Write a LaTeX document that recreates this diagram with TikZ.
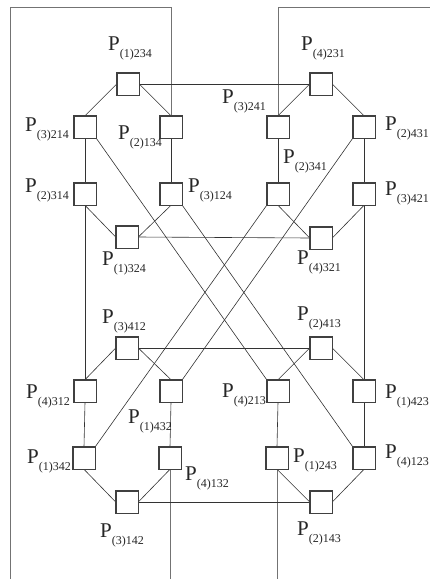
\documentclass[tikz,border=0pt]{standalone}
\usepackage{fontspec}
\setmainfont{Liberation Serif}
\newcommand{\plab}[1]{{\fontsize{21}{21}\selectfont P}\raisebox{-7pt}{\fontsize{12}{12}\selectfont #1}}
\tikzset{
  box/.style={draw=black!75, line width=0.6pt, minimum size=22pt, inner sep=0pt, fill=white},
  edge/.style={draw=black!80, line width=0.6pt},
  frameline/.style={draw=black!55, line width=0.6pt},
  lab/.style={anchor=base west, inner sep=0pt, text=black!85}
}
\begin{document}
\begin{tikzpicture}[x=1pt,y=-1pt]
\useasboundingbox (0,0) rectangle (430,579);
% ---- boxes
\node[box] (a1234) at (128,84) {};
\node[box] (a3214) at (85,127) {};
\node[box] (a2134) at (171,127) {};
\node[box] (a2314) at (85,194) {};
\node[box] (a3124) at (171,194) {};
\node[box] (a1324) at (127,237) {};
\node[box] (b4231) at (321,84) {};
\node[box] (b3241) at (278,127) {};
\node[box] (b2431) at (364,127) {};
\node[box] (b2341) at (278,194) {};
\node[box] (b3421) at (364,194) {};
\node[box] (b4321) at (321,238) {};
\node[box] (c3412) at (127,348) {};
\node[box] (c4312) at (85,391) {};
\node[box] (c1432) at (171,391) {};
\node[box] (c1342) at (84,458) {};
\node[box] (c4132) at (170,458) {};
\node[box] (c3142) at (127,502) {};
\node[box] (d2413) at (321,348) {};
\node[box] (d4213) at (278,391) {};
\node[box] (d1423) at (364,391) {};
\node[box] (d1243) at (277,458) {};
\node[box] (d4123) at (364,458) {};
\node[box] (d2143) at (321,502) {};
% ---- frame coordinates
\coordinate (tl) at (10,7);
\coordinate (bl) at (10,579);
\coordinate (tm1) at (171,7);
\coordinate (bm1) at (170,579);
\coordinate (tm2) at (278,7);
\coordinate (tr) at (430,7);
\coordinate (bm2) at (277,579);
\begin{scope}[on background layer/.style={}]
\end{scope}
% ---- edges (drawn first-ish; boxes have white fill, so redraw boxes after)
\path[frameline] (a2134.north) -- (tm1) -- (tl) -- (bl);
\path[frameline] (c4132.south) -- (bm1);
\path[frameline] (b3241.north) -- (tm2) -- (tr);
\path[frameline] (d1243.south) -- (bm2);
% hexagon top-left
\path[edge] (a1234.west) -- (a3214.north);
\path[edge] (a1234.east) -- (a2134.north);
\path[edge] (a3214.south) -- (a2314.north);
\path[edge] (a2134.south) -- (a3124.north);
\path[edge] (a2314.south) -- (a1324.west);
\path[edge] (a3124.south) -- (a1324.east);
% hexagon top-right
\path[edge] (b4231.west) -- (b3241.north);
\path[edge] (b4231.east) -- (b2431.north);
\path[edge] (b3241.south) -- (b2341.north);
\path[edge] (b2431.south) -- (b3421.north);
\path[edge] (b2341.south) -- (b4321.west);
\path[edge] (b3421.south) -- (b4321.east);
% hexagon bottom-left
\path[edge] (c3412.west) -- (c4312.north);
\path[edge] (c3412.east) -- (c1432.north);
\path[edge] (c4312.south) -- (c1342.north);
\path[edge] (c1432.south) -- (c4132.north);
\path[edge] (c1342.south) -- (c3142.west);
\path[edge] (c4132.south) -- (c3142.east);
% hexagon bottom-right
\path[edge] (d2413.west) -- (d4213.north);
\path[edge] (d2413.east) -- (d1423.north);
\path[edge] (d4213.south) -- (d1243.north);
\path[edge] (d1423.south) -- (d4123.north);
\path[edge] (d1243.south) -- (d2143.west);
\path[edge] (d4123.south) -- (d2143.east);
% external edges
\path[edge] (a1234.east) -- (b4231.west);
\path[edge] (a1324.east) -- (b4321.west);
\path[edge] (c3412.east) -- (d2413.west);
\path[edge] (c3142.east) -- (d2143.west);
\path[edge] (a2314.south) -- (c4312.north);
\path[edge] (b3421.south) -- (d1423.north);
\path[edge] (a3214.south east) -- (d4213.north west);
\path[edge] (a3124.south east) -- (d4123.north west);
\path[edge] (b2431.south west) -- (c1432.north east);
\path[edge] (b2341.south west) -- (c1342.north east);
% redraw boxes on top
\foreach \n in {a1234,a3214,a2134,a2314,a3124,a1324,b4231,b3241,b2431,b2341,b3421,b4321,c3412,c4312,c1432,c1342,c4132,c3142,d2413,d4213,d1423,d1243,d4123,d2143}
  \draw[draw=black!75, line width=0.6pt] (\n.north west) rectangle (\n.south east);
% ---- labels
\node[lab] (l1234) at (108,50) {\plab{(1)234}};
\node[lab] (l3214) at (25,131) {\plab{(3)214}};
\node[lab] (l2134) at (118,139) {\plab{(2)134}};
\node[lab] (l2314) at (25,192) {\plab{(2)314}};
\node[lab] (l3124) at (188,192) {\plab{(3)124}};
\node[lab] (l1324) at (102,265) {\plab{(1)324}};
\node[lab] (l4231) at (301,50) {\plab{(4)231}};
\node[lab] (l3241) at (222,103) {\plab{(3)241}};
\node[lab] (l2431) at (385,130) {\plab{(2)431}};
\node[lab] (l2341) at (283,163) {\plab{(2)341}};
\node[lab] (l3421) at (385,195) {\plab{(3)421}};
\node[lab] (l4321) at (297,264) {\plab{(4)321}};
\node[lab] (l3412) at (102,323) {\plab{(3)412}};
\node[lab] (l2413) at (297,320) {\plab{(2)413}};
\node[lab] (l4312) at (26,398) {\plab{(4)312}};
\node[lab] (l1432) at (128,423) {\plab{(1)432}};
\node[lab] (l4213) at (222,397) {\plab{(4)213}};
\node[lab] (l1423) at (385,398) {\plab{(1)423}};
\node[lab] (l1342) at (27,463) {\plab{(1)342}};
\node[lab] (l4132) at (185,480) {\plab{(4)132}};
\node[lab] (l1243) at (293,462) {\plab{(1)243}};
\node[lab] (l4123) at (385,458) {\plab{(4)123}};
\node[lab] (l3142) at (100,537) {\plab{(3)142}};
\node[lab] (l2143) at (297,535) {\plab{(2)143}};
\end{tikzpicture}
\end{document}
